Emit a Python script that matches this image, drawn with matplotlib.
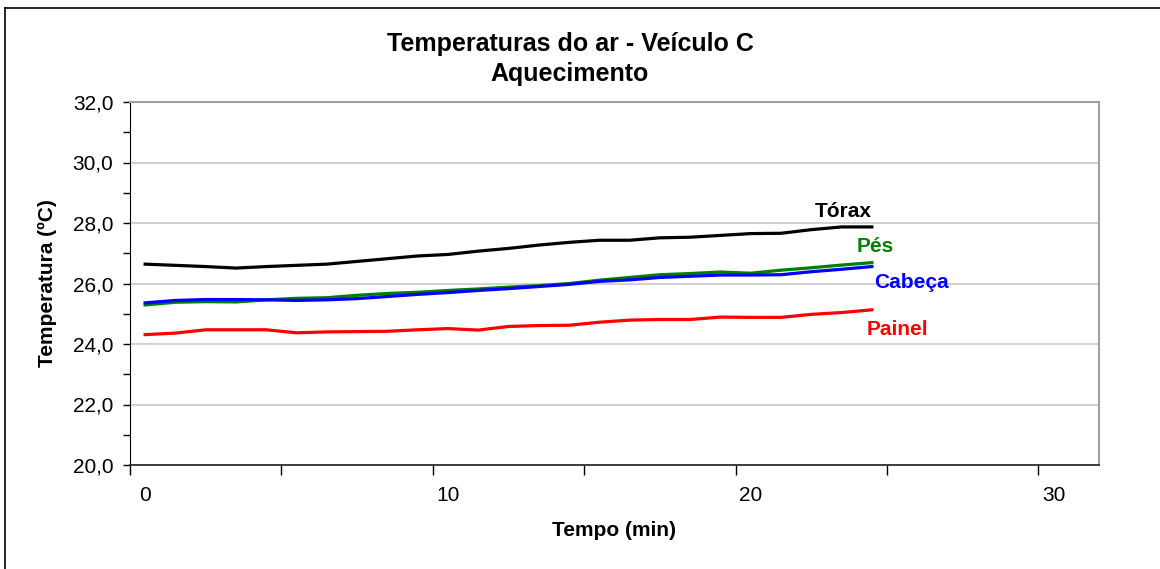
import numpy as np
import matplotlib as mpl
mpl.use('Agg')
import matplotlib.pyplot as plt
from matplotlib.lines import Line2D

plt.rcParams['font.family'] = ['Liberation Sans', 'DejaVu Sans']

# Time in minutes and air temperatures (ºC) per measurement point
tempo = [0, 1, 2, 3, 4, 5, 6, 7, 8, 9, 10, 11, 12, 13, 14, 15, 16, 17, 18, 19, 20, 21, 22, 23, 24]
torax = [26.64, 26.60, 26.56, 26.51, 26.56, 26.60, 26.64, 26.73, 26.82, 26.91, 26.96,
         27.07, 27.16, 27.27, 27.36, 27.43, 27.43, 27.51, 27.53, 27.59, 27.65,
         27.66, 27.78, 27.87, 27.87]
pes = [25.29, 25.38, 25.40, 25.39, 25.46, 25.51, 25.53, 25.61, 25.67, 25.71, 25.77,
       25.82, 25.88, 25.93, 26.00, 26.11, 26.20, 26.29, 26.33, 26.38, 26.34,
       26.44, 26.52, 26.61, 26.69]
cabeca = [25.36, 25.44, 25.47, 25.47, 25.46, 25.44, 25.46, 25.50, 25.57, 25.64, 25.70,
          25.77, 25.83, 25.90, 25.97, 26.07, 26.12, 26.20, 26.24, 26.28, 26.28,
          26.29, 26.39, 26.47, 26.56]
painel = [24.31, 24.36, 24.47, 24.47, 24.47, 24.37, 24.40, 24.41, 24.42, 24.47, 24.51,
          24.46, 24.58, 24.61, 24.62, 24.72, 24.79, 24.81, 24.81, 24.89, 24.88,
          24.88, 24.98, 25.04, 25.13]

series_names = ['Tórax', 'Pés', 'Cabeça', 'Painel']
series_colors = ['#000000', '#008000', '#0000FF', '#FF0000']
label_pos = [(23.05, 28.38), (24.1, 27.22), (25.3, 26.03), (24.85, 24.48)]

y_ticks = [20, 22, 24, 26, 28, 30, 32]
y_ticklabels = ['20,0', '22,0', '24,0', '26,0', '28,0', '30,0', '32,0']
x_labels = [0, 10, 20, 30]

fig = plt.figure(figsize=(11.6, 5.69), dpi=100)
ax = fig.add_axes([130 / 1160, 1 - 465 / 569, 969 / 1160, 363 / 569])

for vals, name, color, pos in zip([torax, pes, cabeca, painel], series_names, series_colors, label_pos):
    ax.plot(tempo, vals, color=color, lw=2.3, solid_joinstyle='round')
    ax.text(pos[0], pos[1], name, color=color, fontsize=15, fontweight='bold',
            ha='center', va='center')

ax.set_xlim(-0.5, 31.5)
ax.set_ylim(20, 32)

ax.set_yticks(y_ticks)
ax.set_yticklabels(y_ticklabels, fontsize=15)
ax.set_yticks(np.arange(21, 32, 2), minor=True)
ax.tick_params(axis='y', which='major', direction='out', length=5, width=1, pad=7)
ax.tick_params(axis='y', which='minor', direction='out', length=5, width=1)

# Excel style: tick marks between labels, labels on round values
ax.set_xticks(np.arange(-0.5, 31, 5))
ax.set_xticklabels([])
ax.set_xticks(x_labels, minor=True)
ax.set_xticklabels([str(v) for v in x_labels], minor=True, fontsize=15)
ax.tick_params(axis='x', which='major', direction='out', length=7, width=1)
ax.tick_params(axis='x', which='minor', length=0, pad=15)

ax.yaxis.grid(True, which='major', color='#c8c8c8', lw=1.2)
ax.set_axisbelow(True)

for side in ['top', 'right']:
    ax.spines[side].set_color('#a0a0a0')
    ax.spines[side].set_linewidth(1.5)
ax.spines['left'].set_color('#000000')
ax.spines['bottom'].set_color('#303030')
ax.spines['bottom'].set_linewidth(1.3)

ax.set_xlabel('Tempo (min)', fontsize=15, fontweight='bold')
ax.xaxis.set_label_coords(0.5, -0.155)
ax.set_ylabel('Temperatura (ºC)', fontsize=15, fontweight='bold')
ax.yaxis.set_label_coords(-0.075, 0.5)

fig.text(570 / 1160, 1 - 44 / 569, 'Temperaturas do ar - Veículo C', fontsize=18,
         fontweight='bold', ha='center', va='center')
fig.text(570 / 1160, 1 - 74 / 569, 'Aquecimento', fontsize=18,
         fontweight='bold', ha='center', va='center')

# chart area border (cut off at right and bottom)
fig.add_artist(Line2D([5 / 1160, 5 / 1160], [0, 1 - 8 / 569], color='black', lw=1.2))
fig.add_artist(Line2D([5 / 1160, 1], [1 - 8 / 569, 1 - 8 / 569], color='black', lw=1.2))

fig.savefig('out.png', dpi=100)
